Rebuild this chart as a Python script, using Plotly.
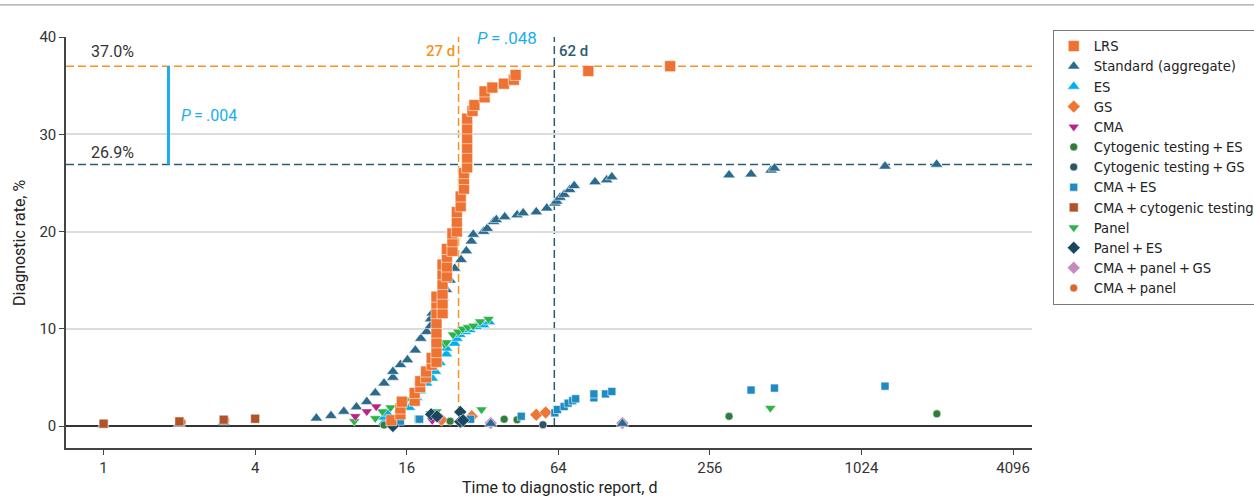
import plotly.graph_objects as go

# ---------------- data (days, diagnostic rate %) ----------------
lrs_x = [13.9, 15.1, 15.1, 15.3, 17.2, 17.2, 18.1, 18.1, 19.1, 19.1, 20.1, 20.1,
         21.0, 21.0, 21.0, 21.0, 21.0, 21.0, 21.0, 21.0,
         22.2, 22.2, 22.2, 22.2, 22.2, 22.2, 23.1, 23.1, 23.1, 23.1,
         24.3, 24.3, 24.3, 25.3, 25.3, 25.3, 26.2, 26.2, 27.0, 27.0, 27.0,
         27.8, 27.8, 27.8, 27.8, 27.8, 27.8, 29.2, 29.7, 32.6, 32.6, 35.0,
         38.9, 42.6, 43.3, 84.2, 178.0]
lrs_y = [0.6, 1.2, 1.8, 2.5, 2.6, 3.4, 4.0, 4.6, 5.0, 5.6, 6.3, 7.0,
         6.6, 7.6, 8.6, 9.6, 10.6, 11.6, 12.6, 13.3,
         11.6, 12.6, 13.6, 14.6, 15.6, 16.6, 15.4, 16.4, 17.4, 18.2,
         18.0, 19.0, 19.8, 20.0, 21.0, 22.0, 22.6, 23.6, 24.4, 25.4, 26.0,
         26.6, 27.6, 28.6, 29.6, 30.6, 31.6, 32.4, 33.0, 33.8, 34.4, 34.8,
         35.2, 35.6, 36.1, 36.5, 37.0]

std_x = [1.0, 2.0, 3.0, 7.0, 8.0, 9.0, 10.1, 11.1, 12.0, 13.0, 14.1, 14.1, 15.1,
         16.1, 17.3, 18.2, 19.2, 19.9, 19.9, 20.2, 22.3, 23.0, 23.8, 24.8, 26.3,
         27.6, 28.9, 29.4, 32.3, 33.4, 35.4, 36.3, 39.2, 43.9, 46.4, 52.3, 57.6,
         62.0, 63.0, 65.0, 67.5, 71.0, 74.0, 89.5, 99.6, 104.4, 305, 373, 448,
         462, 1270, 2036, 34.5, 115]
std_y = [0.1, 0.2, 0.4, 0.8, 1.05, 1.5, 1.95, 2.5, 3.4, 4.4, 5.0, 5.6, 6.3,
         6.8, 7.8, 9.0, 9.7, 10.3, 11.0, 11.6, 13.2, 14.0, 15.0, 16.2, 17.1,
         18.0, 19.0, 19.7, 20.0, 20.3, 21.0, 21.2, 21.5, 21.7, 21.9, 22.0, 22.4,
         22.9, 23.1, 23.5, 23.8, 24.3, 24.7, 25.1, 25.3, 25.6, 25.8, 25.9, 26.3,
         26.5, 26.7, 26.9, 0.25, 0.25]

es_x = [13.0, 13.0, 13.4, 15.0, 16.4, 17.5, 18.1, 19.2, 20.2, 20.8, 21.7, 23.0,
        23.0, 24.8, 25.3, 26.0, 27.3, 28.5, 30.2, 32.3, 34.0]
es_y = [0.4, 0.9, 1.3, 1.0, 1.9, 2.9, 3.6, 4.4, 4.9, 5.6, 6.5, 7.4,
        8.0, 8.5, 9.0, 9.4, 9.7, 9.9, 10.2, 10.4, 10.7]

gs_x = [22.0, 29.0, 52.3, 57.0]
gs_y = [0.65, 1.0, 1.15, 1.4]

cma_x = [10.0, 11.1, 12.1, 20.2, 21.4]
cma_y = [1.0, 1.5, 2.0, 0.6, 0.8]

cyto_es_x = [13.0, 23.8, 39.0, 43.9, 305, 2040]
cyto_es_y = [0.1, 0.5, 0.7, 0.65, 1.0, 1.25]

cyto_gs_x = [55.6]
cyto_gs_y = [0.13]

cma_es_x = [15.1, 17.8, 18.0, 28.7, 45.6, 62.0, 63.5, 67.5, 70.0, 73.0, 75.0,
            88.6, 88.6, 98.5, 104.4, 373, 462, 1270]
cma_es_y = [0.5, 0.7, 0.7, 0.7, 1.0, 1.35, 1.7, 2.0, 2.35, 2.6, 2.8,
            2.9, 3.3, 3.3, 3.55, 3.7, 3.9, 4.1]

cma_cyto_x = [1.0, 2.0, 3.0, 4.0]
cma_cyto_y = [0.24, 0.47, 0.65, 0.75]

panel_x = [9.9, 12.0, 12.8, 13.8, 15.9, 19.9, 21.0, 22.6, 23.0, 24.4, 25.6, 26.7,
           28.0, 29.4, 31.3, 31.7, 33.8, 445]
panel_y = [0.5, 0.8, 1.5, 1.9, 2.7, 1.3, 1.5, 8.4, 8.6, 9.4, 9.7, 10.0,
           10.15, 10.3, 10.75, 1.7, 11.0, 1.85]

panel_es_x = [14.1, 20.0, 21.1, 26.1, 26.1, 26.8]
panel_es_y = [0.0, 1.2, 1.0, 1.45, 0.45, 0.6]

cma_panel_gs_x = [34.5, 115]
cma_panel_gs_y = [0.3, 0.3]

cma_panel_x = [2.05, 3.05]
cma_panel_y = [0.4, 0.6]

lrs_rate, std_rate = 37.0, 26.9
lrs_median, std_median = 25.7, 61.7
tick_days = [1, 4, 16, 64, 256, 1024, 4096]

FONT = "Roboto"
CYAN = "#19AEEB"
ORANGE_LINE = "#F7941D"
TEAL_LINE = "#2D5C70"

fig = go.Figure()

def add(name, xs, ys, symbol, color, size, rank):
    fig.add_trace(go.Scatter(
        x=xs, y=ys, mode="markers", name=name, legendrank=rank, showlegend=True,
        marker=dict(symbol=symbol, color=color, size=size,
                    line=dict(color="rgba(255,255,255,0.55)", width=1)),
        hoverinfo="x+y+name"))

S = "\u2009+\u2009"
# drawing order (later on top); legend order via legendrank
add("CMA" + S + "panel" + S + "GS", cma_panel_gs_x, cma_panel_gs_y, "diamond", "#C58BBE", 10, 12)
add("CMA" + S + "panel", cma_panel_x, cma_panel_y, "circle", "#D9692A", 8, 13)
add("Standard (aggregate)", std_x, std_y, "triangle-up", "#2A6A8D", 11, 2)
add("ES", es_x, es_y, "triangle-up", "#03AEEF", 11, 3)
add("Panel", panel_x, panel_y, "triangle-down", "#2DB34A", 10, 10)
add("GS", gs_x, gs_y, "diamond", "#EE7634", 10, 4)
add("CMA", cma_x, cma_y, "triangle-down", "#B7248E", 10, 5)
add("Cytogenic testing" + S + "ES", cyto_es_x, cyto_es_y, "circle", "#2F7D3B", 8, 6)
add("Cytogenic testing" + S + "GS", cyto_gs_x, cyto_gs_y, "circle", "#2E5566", 8, 7)
add("CMA" + S + "ES", cma_es_x, cma_es_y, "square", "#1E8BC2", 8, 8)
add("Panel" + S + "ES", panel_es_x, panel_es_y, "diamond", "#1B4660", 10, 11)
add("CMA" + S + "cytogenic testing", cma_cyto_x, cma_cyto_y, "square", "#B0532A", 9, 9)
add("LRS", lrs_x, lrs_y, "square", "#EE7332", 11, 1)

shapes = [
    dict(type="line", xref="paper", yref="y", x0=0, x1=1, y0=lrs_rate, y1=lrs_rate,
         line=dict(color=ORANGE_LINE, width=1.5, dash="8px,4px"), layer="below"),
    dict(type="line", xref="paper", yref="y", x0=0, x1=1, y0=std_rate, y1=std_rate,
         line=dict(color=TEAL_LINE, width=1.5, dash="8px,4px"), layer="below"),
    dict(type="line", xref="x", yref="y", x0=lrs_median, x1=lrs_median, y0=0, y1=40,
         line=dict(color=ORANGE_LINE, width=1.5, dash="8px,4px"), layer="below"),
    dict(type="line", xref="x", yref="y", x0=std_median, x1=std_median, y0=0, y1=40,
         line=dict(color=TEAL_LINE, width=1.5, dash="8px,4px"), layer="below"),
    dict(type="line", xref="x", yref="y", x0=1.81, x1=1.81, y0=std_rate, y1=lrs_rate,
         line=dict(color=CYAN, width=3)),
    dict(type="line", xref="paper", yref="paper", x0=-0.07, x1=1.24, y0=1.078, y1=1.078,
         line=dict(color="#8c8c8c", width=1)),
]

txt = dict(family=FONT, size=16, color="#333333")
annotations = [
    dict(x=0.0345, y=38.5, xref="x", yref="y", text="37.0%", showarrow=False, font=txt, xanchor="center"),
    dict(x=0.0345, y=28.1, xref="x", yref="y", text="26.9%", showarrow=False, font=txt, xanchor="center"),
    dict(x=0.301, y=31.9, xref="x", yref="y", text="<i>P</i>\u2009=\u2009.004", showarrow=False,
         font=dict(family=FONT, size=16, color=CYAN), xanchor="left"),
    dict(x=1.405, y=38.6, xref="x", yref="y", text="27 d", showarrow=False,
         font=dict(family=FONT, size=15, color=ORANGE_LINE, weight=500), xanchor="right"),
    dict(x=1.80, y=38.6, xref="x", yref="y", text="62 d", showarrow=False,
         font=dict(family=FONT, size=15, color=TEAL_LINE, weight=500), xanchor="left"),
    dict(x=1.604, y=39.9, xref="x", yref="y", text="<i>P</i>\u2009=\u2009.048", showarrow=False,
         font=dict(family=FONT, size=17, color=CYAN), xanchor="center"),
    dict(x=0.5104, y=-0.095, xref="paper", yref="paper", text="Time to diagnostic report, d",
         showarrow=False, font=dict(family=FONT, size=16, color="#222"), yanchor="middle"),
    dict(x=-0.0476, y=0.499, xref="paper", yref="paper", text="Diagnostic rate, %", textangle=-90,
         showarrow=False, font=dict(family=FONT, size=16, color="#222"), xanchor="center", yanchor="middle"),
]

fig.update_layout(
    width=1254, height=497,
    margin=dict(l=66, r=222, t=37, b=49, autoexpand=False),
    paper_bgcolor="white", plot_bgcolor="white",
    font=dict(family=FONT, color="#333"),
    shapes=shapes, annotations=annotations,
    showlegend=True,
    legend=dict(xref="container", yref="container", x=0.8395, y=0.9396,
                xanchor="left", yanchor="top", maxheight=400,
                bordercolor="#7a7a7a", borderwidth=1, bgcolor="white",
                font=dict(family="DejaVu Sans", size=13.2, color="#222"), traceorder="normal"),
    xaxis=dict(type="log", range=[-0.1493, 3.6876], tickmode="array",
               tickvals=tick_days, ticktext=[str(t) for t in tick_days],
               showgrid=False, zeroline=False, showline=True, linecolor="#444", linewidth=1.5,
               ticks="outside", ticklen=5, tickcolor="#444", tickwidth=1,
               tickfont=dict(family=FONT, size=15, color="#333")),
    yaxis=dict(range=[-2.26, 40], tickvals=[0, 10, 20, 30, 40],
               showgrid=True, gridcolor="#dcdcdc", gridwidth=1.5,
               zeroline=True, zerolinecolor="#333", zerolinewidth=1.5,
               showline=True, linecolor="#444", linewidth=1.5,
               ticks="outside", ticklen=5, tickcolor="#444", tickwidth=1,
               tickfont=dict(family=FONT, size=15, color="#333")),
)

fig.write_html("out.html", config={"displayModeBar": False},
               post_script="document.body.style.margin='0';document.body.style.overflow='hidden';")
